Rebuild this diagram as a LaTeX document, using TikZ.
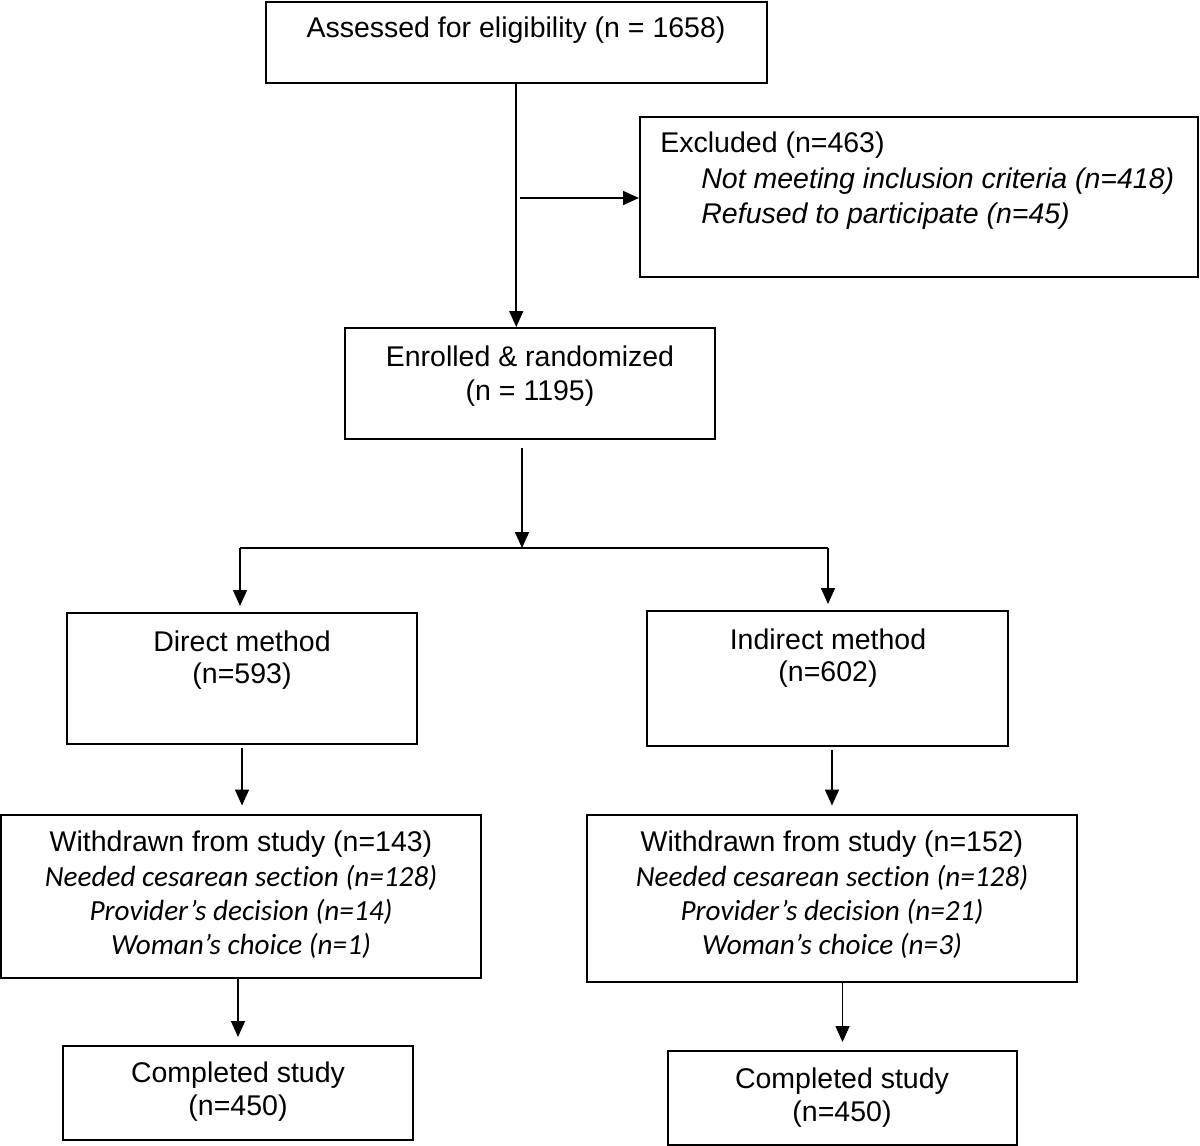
\documentclass[tikz,border=0pt]{standalone}
\usepackage{fontspec}
\setmainfont{Liberation Sans}
\newfontfamily\calfont[Ligatures=NoCommon]{Carlito}
\usetikzlibrary{arrows.meta,fit}
\begin{document}
\begin{tikzpicture}[x=0.5pt,y=-0.5pt,
  box/.style={draw=black,line width=1pt,inner sep=0pt,rectangle},
  txt/.style={inner sep=0pt,font=\fontsize{14.25}{17}\selectfont},
  itxt/.style={inner sep=0pt,font=\fontsize{14.25}{17}\selectfont\itshape},
  ctxt/.style={inner sep=0pt,font=\calfont\itshape\fontsize{14.6}{17}\selectfont},
  arr/.style={line width=0.8pt,-{Triangle[length=8pt,width=7pt]}},
  ln/.style={line width=0.8pt}]
\useasboundingbox (0,0) rectangle (1200,1146);
\fill[white] (0,0) rectangle (1200,1146);

% boxes
\node[box,fit={(265.5,2)(767,83)}] (A) {};
\node[box,fit={(640,117)(1198,277)}] (X) {};
\node[box,fit={(345,328)(715,439)}] (E) {};
\node[box,fit={(67,613)(417,744)}] (D) {};
\node[box,fit={(647,611)(1008,746)}] (I) {};
\node[box,fit={(1,814.5)(481,978)}] (WL) {};
\node[box,fit={(587,814.5)(1077,982)}] (WR) {};
\node[box,fit={(63,1046)(413,1140)}] (CL) {};
\node[box,fit={(668,1051)(1017,1145)}] (CR) {};

% texts
\node[txt] (tA) at (516,30) {Assessed for eligibility (n = 1658)};
\node[txt,anchor=west] (tX1) at (660,145) {Excluded (n=463)};
\node[itxt,anchor=west] (tX2) at (701,181) {Not meeting inclusion criteria (n=418)};
\node[itxt,anchor=west] (tX3) at (701,216) {Refused to participate (n=45)};
\node[txt] (tE1) at (530,356) {Enrolled \& randomized};
\node[txt] (tE2) at (530,393) {(n = 1195)};
\node[txt] (tD1) at (242,641) {Direct method};
\node[txt] (tD2) at (242,676) {(n=593)};
\node[txt] (tI1) at (828,639) {Indirect method};
\node[txt] (tI2) at (828,674) {(n=602)};
\node[txt] (tWL1) at (241,844) {Withdrawn from study (n=143)};
\node[ctxt] (tWL2) at (241,878) {Needed cesarean section (n=128)};
\node[ctxt] (tWL3) at (241,912) {Provider’s decision (n=14)};
\node[ctxt] (tWL4) at (241,946) {Woman’s choice (n=1)};
\node[txt] (tWR1) at (832,844) {Withdrawn from study (n=152)};
\node[ctxt] (tWR2) at (832,878) {Needed cesarean section (n=128)};
\node[ctxt] (tWR3) at (832,912) {Provider’s decision (n=21)};
\node[ctxt] (tWR4) at (832,946) {Woman’s choice (n=3)};
\node[txt] (tCL1) at (238,1075) {Completed study};
\node[txt] (tCL2) at (238,1108) {(n=450)};
\node[txt] (tCR1) at (842,1081) {Completed study};
\node[txt] (tCR2) at (842,1114) {(n=450)};

% connectors
\coordinate (h) at (520,198);
\coordinate (split) at (522,548);
\coordinate (bl) at (240,548);
\coordinate (br) at (828,548);
\draw[arr] (A.south) -- (A.south |- E.north);
\draw[arr] (h) -- (h -| X.west);
\draw[arr,shorten <=4pt] (E.south -| split) -- (split);
\draw[ln] (bl) -- (br);
\draw[arr,shorten >=3pt] (bl) -- (bl |- D.north);
\draw[arr,shorten >=3pt] (br) -- (br |- I.north);
\draw[arr,shorten <=1.5pt,shorten >=4pt] (D.south) -- (D.south |- WL.north);
\draw[arr,shorten <=1.5pt,shorten >=4pt] (WR.north |- I.south) -- (WR.north);
\draw[arr,shorten >=4pt] (CL.north |- WL.south) -- (CL.north);
\draw[arr,shorten >=4pt] (CR.north |- WR.south) -- (CR.north);
\end{tikzpicture}
\end{document}
